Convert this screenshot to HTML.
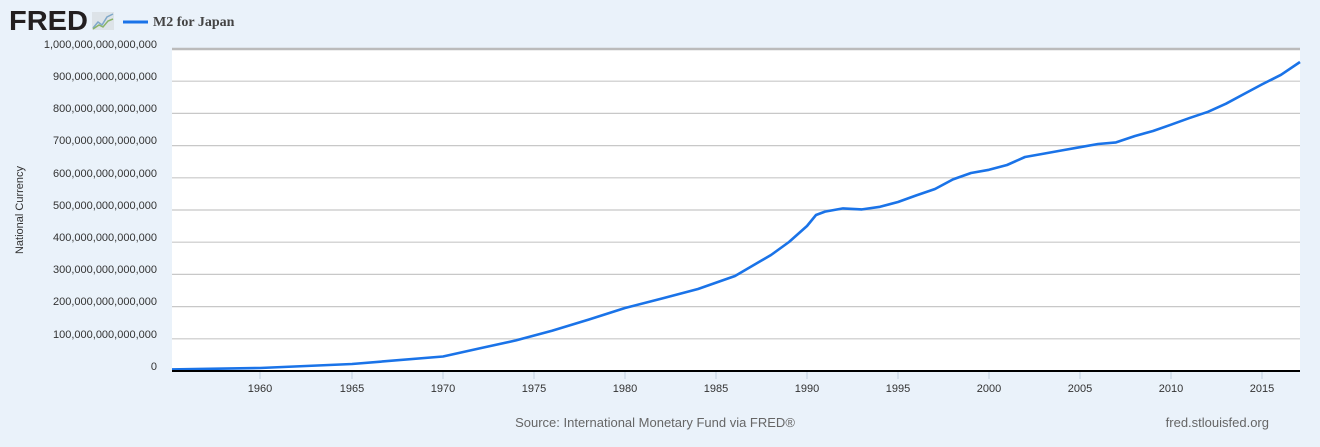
<!DOCTYPE html>
<html><head><meta charset="utf-8"><style>
body{margin:0;background:#eaf2fa;width:1320px;height:447px;overflow:hidden;font-family:"Liberation Sans",sans-serif}
svg{display:block}
</style></head><body>
<svg width="1320" height="447" xmlns="http://www.w3.org/2000/svg" font-family="Liberation Sans, sans-serif">
<rect width="1320" height="447" fill="#eaf2fa"/>
<text x="9" y="30" font-size="28" font-weight="bold" fill="#231f20" textLength="79" lengthAdjust="spacingAndGlyphs">FRED</text>
<rect x="92" y="12" width="22" height="18" fill="#dde3e8"/>
<polyline points="93,28 98,22 102,25 107,17 113,14" fill="none" stroke="#7fa8c9" stroke-width="1.5"/>
<polyline points="93,29 99,25 103,27 108,21 113,19" fill="none" stroke="#8ab46a" stroke-width="1.5"/>
<line x1="123" y1="22" x2="148" y2="22" stroke="#1a73e8" stroke-width="3"/>
<text x="153" y="26" font-size="14" font-weight="bold" fill="#444" font-family="Liberation Serif, serif">M2 for Japan</text>
<rect x="172" y="49" width="1128" height="322" fill="#fff"/>
<g stroke="#c8c8c8" stroke-width="1.2">
<line x1="172" y1="49" x2="1300" y2="49" stroke-width="2.5" stroke="#bbb"/>
<line x1="172" y1="81.2" x2="1300" y2="81.2"/><line x1="172" y1="113.4" x2="1300" y2="113.4"/>
<line x1="172" y1="145.6" x2="1300" y2="145.6"/><line x1="172" y1="177.8" x2="1300" y2="177.8"/>
<line x1="172" y1="210" x2="1300" y2="210"/><line x1="172" y1="242.2" x2="1300" y2="242.2"/>
<line x1="172" y1="274.4" x2="1300" y2="274.4"/><line x1="172" y1="306.6" x2="1300" y2="306.6"/>
<line x1="172" y1="338.8" x2="1300" y2="338.8"/>
</g>
<g font-size="11" fill="#333" text-anchor="end">
<text x="157" y="48">1,000,000,000,000,000</text><text x="157" y="80">900,000,000,000,000</text>
<text x="157" y="112">800,000,000,000,000</text><text x="157" y="144">700,000,000,000,000</text>
<text x="157" y="177">600,000,000,000,000</text><text x="157" y="209">500,000,000,000,000</text>
<text x="157" y="241">400,000,000,000,000</text><text x="157" y="273">300,000,000,000,000</text>
<text x="157" y="305">200,000,000,000,000</text><text x="157" y="338">100,000,000,000,000</text>
<text x="157" y="370">0</text>
</g>
<text transform="translate(23,210) rotate(-90)" font-size="11" fill="#333" text-anchor="middle">National Currency</text>
<g stroke="#c0d0e0" stroke-width="1">
<line x1="260" y1="372" x2="260" y2="379"/><line x1="352" y1="372" x2="352" y2="379"/><line x1="443" y1="372" x2="443" y2="379"/><line x1="534" y1="372" x2="534" y2="379"/><line x1="625" y1="372" x2="625" y2="379"/><line x1="716" y1="372" x2="716" y2="379"/><line x1="807" y1="372" x2="807" y2="379"/><line x1="898" y1="372" x2="898" y2="379"/><line x1="989" y1="372" x2="989" y2="379"/><line x1="1080" y1="372" x2="1080" y2="379"/><line x1="1171" y1="372" x2="1171" y2="379"/><line x1="1262" y1="372" x2="1262" y2="379"/>
</g>
<g font-size="11" fill="#333" text-anchor="middle">
<text x="260" y="392">1960</text><text x="352" y="392">1965</text><text x="443" y="392">1970</text><text x="534" y="392">1975</text><text x="625" y="392">1980</text><text x="716" y="392">1985</text><text x="807" y="392">1990</text><text x="898" y="392">1995</text><text x="989" y="392">2000</text><text x="1080" y="392">2005</text><text x="1171" y="392">2010</text><text x="1262" y="392">2015</text>
</g>
<polyline fill="none" stroke="#1a73e8" stroke-width="2.6" stroke-linejoin="round" points="172,369.4 260,368 352,364 443,356.5 479,348.5 516,340.4 552,330.8 589,319.5 625,308 662,298.5 698,289 735,276 771,255 789,242 807,226 816,215 825,211.6 843,208.4 862,209.4 880,206.8 898,202 916,195.5 935,189 953,179.4 971,173 989,169.8 1007,165 1025,157 1044,153.6 1062,150.4 1080,147.2 1098,144 1116,142.4 1135,136 1153,131 1171,124.7 1189,118.2 1208,111.8 1226,103.7 1244,94 1262,84.4 1281,74.8 1300,62"/>
<line x1="172" y1="371" x2="1300" y2="371" stroke="#000" stroke-width="2"/>
<text x="655" y="427" font-size="13" fill="#666" text-anchor="middle">Source: International Monetary Fund via FRED®</text>
<text x="1269" y="427" font-size="13" fill="#666" text-anchor="end">fred.stlouisfed.org</text>
</svg>
</body></html>
